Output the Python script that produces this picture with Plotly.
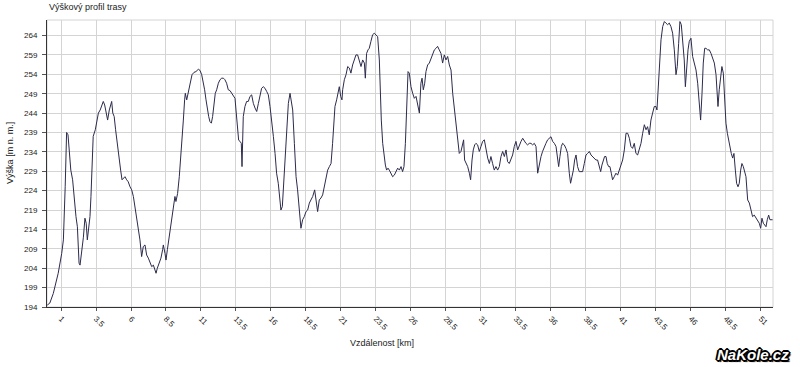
import plotly.graph_objects as go

km = [0.02, 0.2, 0.45, 0.7, 0.8, 1.05, 1.17, 1.3, 1.35, 1.4, 1.5, 1.6, 1.7, 1.83, 1.93, 2.07, 2.17, 2.29, 2.36,
      2.48, 2.6, 2.71, 2.8, 2.88, 2.98, 3.07, 3.14, 3.2, 3.3, 3.45, 3.55, 3.67, 3.8, 3.9, 4.02, 4.12, 4.2, 4.33,
      4.45, 4.55, 4.62, 4.7, 4.8, 4.9, 4.98, 5.07, 5.17, 5.26, 5.36, 5.45, 5.57, 5.69, 5.8, 5.93, 6.05, 6.17,
      6.28, 6.4, 6.52, 6.64, 6.76, 6.88, 7.0, 7.12, 7.24, 7.36, 7.48, 7.6, 7.71, 7.79, 7.88, 8.02, 8.14, 8.26,
      8.31, 8.43, 8.5, 8.6, 8.69, 8.79, 8.9, 9.02, 9.14, 9.21, 9.33, 9.45, 9.55, 9.64, 9.74, 9.83, 9.88, 9.98,
      10.07, 10.17, 10.26, 10.36, 10.5, 10.64, 10.81, 10.93, 11.05, 11.17, 11.26, 11.36, 11.45, 11.55, 11.64,
      11.74, 11.83, 11.93, 12.02, 12.12, 12.24, 12.36, 12.48, 12.6, 12.71, 12.83, 12.95, 13.07, 13.19, 13.31,
      13.43, 13.5, 13.6, 13.69, 13.79, 13.88, 13.93, 13.98, 14.02, 14.14, 14.26, 14.38, 14.5, 14.62, 14.74,
      14.86, 14.98, 15.1, 15.21, 15.33, 15.45, 15.57, 15.69, 15.81, 15.93, 16.05, 16.17, 16.29, 16.4, 16.52,
      16.64, 16.71, 16.81, 16.93, 17.02, 17.12, 17.24, 17.36,
      17.43, 17.55, 17.67, 17.79, 17.9, 18.02, 18.14, 18.26, 18.38, 18.5, 18.62, 18.74, 18.86, 18.98, 19.12,
      19.21, 19.33, 19.45, 19.57, 19.69, 19.81, 19.93, 20.05, 20.17, 20.29, 20.4, 20.48, 20.57, 20.69, 20.79,
      20.88, 20.98, 21.07, 21.12, 21.24, 21.36, 21.48, 21.6, 21.71, 21.83, 21.95, 22.07, 22.19, 22.31, 22.43,
      22.55, 22.67, 22.74, 22.83, 22.93, 23.02, 23.14, 23.26, 23.38, 23.5, 23.62, 23.74, 23.81, 23.88, 23.98,
      24.07, 24.17, 24.26, 24.36, 24.45, 24.57, 24.69, 24.81, 24.93, 25.05, 25.17, 25.29, 25.4, 25.5, 25.6,
      25.69, 25.79, 25.88, 26.0, 26.12, 26.24, 26.36, 26.48, 26.6, 26.71, 26.79, 26.88, 26.98, 27.07, 27.19,
      27.31, 27.43, 27.55, 27.67, 27.79, 27.9, 28.02, 28.14, 28.26, 28.38, 28.5, 28.62, 28.74, 28.86, 28.98,
      29.1, 29.21, 29.33, 29.45, 29.57, 29.69, 29.76, 29.83, 29.93, 30.05, 30.17, 30.26, 30.36, 30.45, 30.55,
      30.64, 30.76, 30.88, 31.0, 31.12, 31.24, 31.36, 31.48, 31.6, 31.71, 31.83, 31.95, 32.07, 32.19, 32.31,
      32.43, 32.55, 32.67, 32.79, 32.9, 33.02, 33.14, 33.26, 33.38, 33.5, 33.62, 33.74, 33.86, 33.98, 34.1,
      34.21, 34.33, 34.45, 34.57, 34.69, 34.81, 34.93,
      35.05, 35.17, 35.29, 35.4, 35.52, 35.64, 35.76, 35.88, 36.0, 36.12, 36.24, 36.36, 36.48, 36.55, 36.64,
      36.74, 36.83, 36.95, 37.07, 37.19, 37.31, 37.4, 37.5, 37.6, 37.69, 37.79, 37.9, 38.02, 38.14, 38.26,
      38.38, 38.5, 38.62, 38.74, 38.86, 38.98, 39.1, 39.21, 39.33, 39.45, 39.55, 39.64, 39.74, 39.83, 39.93,
      40.02, 40.12, 40.21, 40.31, 40.4, 40.52, 40.64, 40.76, 40.88, 41.0, 41.12, 41.24, 41.36, 41.48, 41.6,
      41.71, 41.83, 41.95, 42.07, 42.19, 42.31, 42.43, 42.55, 42.67, 42.79, 42.9, 43.02, 43.14, 43.26, 43.38,
      43.5, 43.57, 43.64, 43.74, 43.86, 43.98, 44.1, 44.21, 44.33, 44.45, 44.57, 44.69, 44.81, 44.93, 45.02,
      45.12, 45.21, 45.31, 45.4, 45.52, 45.6, 45.69, 45.79, 45.88, 46.0, 46.12, 46.24, 46.36, 46.48, 46.6,
      46.69, 46.79, 46.88, 46.98, 47.07, 47.19, 47.31, 47.43, 47.55, 47.67, 47.79, 47.86, 47.93, 48.02, 48.12,
      48.21, 48.31, 48.4, 48.5, 48.6, 48.69, 48.79, 48.88, 48.98, 49.07, 49.17, 49.26, 49.36, 49.45, 49.55,
      49.64, 49.74, 49.83, 49.93, 50.05, 50.17, 50.29, 50.4, 50.52, 50.64, 50.76, 50.88, 50.98, 51.07, 51.17,
      51.26, 51.36, 51.45, 51.55, 51.64, 51.74, 51.83]

elevation = [194.5, 195, 197.5, 201, 202.7, 207.8, 211.3, 225, 233, 239, 238.4, 234.5, 229.3, 226.8, 222.5,
             217.3, 214.7, 205.3, 204.8, 207.8, 212, 216.9, 215.6, 211.3, 213.8, 217.3, 222.5, 231, 238, 239.7,
             241.4, 244, 244.8, 245.7, 247, 246.1, 244.8, 242.2, 244.8, 246.5, 247, 244, 243.1, 239.7, 237,
             234.5, 231, 229.3, 226.8, 227.2, 227.6, 226.8, 226.3, 225, 224.2, 222.5, 219.9, 216.5, 213.9, 211.3,
             207, 209.6, 210, 207.4, 206.6, 205.3, 204.4, 204.8, 203.6, 202.7, 204, 205.3, 206.6, 208.8, 210,
             207.8, 206.1, 208.8, 211.3, 213, 216.5, 219, 222.5, 221.2, 223.3, 227.6, 231.9, 236.2, 242.2, 247.4,
             249.1, 247.4, 249.1, 250, 252.1, 253.9, 254.5, 254.7, 255.3, 255, 253.9, 252.1, 250, 247.4, 244.8,
             243.1, 241.8, 241.4, 243.1, 245.7, 249.1, 250, 251.7, 252.6, 253, 253, 252.6, 251.7, 250, 249.8,
             249.1, 248.7, 247.8, 244.8, 239.7, 237, 236.7, 236.2, 230.2, 236.2, 243.1, 245.7, 247, 247, 248.3,
             248.7, 246.5, 245.3, 244.4, 246.5, 248.7, 250.4, 250.8, 250.4, 249.6, 248.7, 245.7, 242.2, 238,
             233.6, 228.5, 225.9, 221.6, 219, 219.9, 227.6, 234.5, 240.5, 246.5, 249.1,
             247.8, 244.8, 236.2, 227.6, 224.2, 219, 214.3, 216.5, 217.3, 218.6, 219, 220.8, 221.6, 222.5, 224.2,
             221.6, 218.6, 221.6, 222.1, 222.9, 225, 227.6, 229.3, 230.2, 231, 236.2, 242.2, 245.7, 247.4, 249.1,
             250.8, 248.3, 247.4, 250, 252.6, 253.9, 256, 255.6, 254.3, 256.4, 257.7, 259, 259, 257.3, 256,
             257.7, 256.9, 253, 259.4, 260.3, 260.7, 262.5, 264.2, 264.6, 264.2, 263.7, 257.7, 249.1, 242.2, 236.2,
             232.8, 230.6, 229.3, 229.8, 229.3, 228.5, 227.6, 228, 228.9, 229.8, 229.3, 230.2, 228.9, 230.2, 236.2,
             246.5, 254.7, 254.3, 250.8, 249.1, 247.8, 248.3, 246.1, 244, 251.7, 253, 250, 251.7, 254.7, 256.4,
             256.9, 258.2, 259.4, 260.3, 260.7, 261.2, 260.3, 259.4, 256.9, 259, 257.7, 258.6, 256.4, 255.1, 249.1,
             244.8, 241.4, 237.1, 233.6, 234.1, 236.2, 237.1, 231.9, 231, 230.2, 228.5, 226.8, 231.9, 234.5, 235.8,
             236.2, 235.8, 234.1, 235.4, 236.7, 237.1, 234.5, 232.4, 231, 232.8, 231, 229.3, 230.2, 229.3, 230.2,
             232.8, 234.1, 232.8, 234.5, 231.5, 231, 231.9, 233.2, 235.4, 236.7, 234.5, 235.8, 236.7, 237.5, 236.7,
             236.2, 235.8, 236.2, 236.2, 235.8, 236.2, 235.4,
             228.5, 231, 232.8, 234.1, 235.4, 236.2, 237.1, 237.5, 237.9, 236.7, 236.2, 235.4, 232.8, 230.2, 232.8,
             235.4, 236.2, 235.8, 234.9, 233.6, 228.5, 225.9, 227.6, 229.3, 231.9, 233.2, 230.2, 228.9, 228.9, 228.9,
             231, 233.2, 233.6, 234.1, 233.2, 232.8, 232.4, 231.9, 231.9, 230.2, 228.9, 230.6, 231.9, 232.8, 232.8,
             231, 230.2, 230.2, 228.5, 226.8, 227.6, 228.5, 228, 229.3, 230.2, 231.9, 234.5, 238.8, 238.8, 237.5,
             235.4, 234.9, 236.2, 233.6, 233.2, 234.5, 236.2, 238.8, 241, 239.7, 240.5, 238.4, 242.2, 244, 245.7,
             245.7, 244.8, 249.1, 256.9, 262.9, 266.3, 267.6, 267.2, 266.8, 267.2, 266.3, 264.6, 260.3, 253.9, 256,
             262, 267.6, 266.8, 263.7, 257.7, 250.8, 256.9, 260.3, 262.5, 263.3, 258.6, 256.9, 255.1, 251.7, 244.8,
             242.2, 249.1, 256.9, 260.7, 260.7, 260.3, 260.3, 259.4, 258.2, 256.9, 253.9, 249.1, 245.7, 250, 253.4,
             256, 254.3, 248.3, 241.4, 238.8, 237.1, 234.5, 233.6, 232.4, 233.6, 229.3, 225.9, 225, 225.9, 229.3,
             231, 230.2, 228.9, 227.6, 221.6, 220.8, 219, 217.3, 217.7, 216.9, 216.5, 215.6, 214.3, 216.9, 215.6,
             215.2, 214.7, 216.5, 217.7, 216.5, 216.5, 216.5]

x_ticks = [1, 3.5, 6, 8.5, 11, 13.5, 16, 18.5, 21, 23.5, 26, 28.5, 31, 33.5, 36, 38.5, 41, 43.5, 46, 48.5, 51]
x_tick_labels = ["1", "3.5", "6", "8.5", "11", "13.5", "16", "18.5", "21", "23.5", "26", "28.5", "31",
                 "33.5", "36", "38.5", "41", "43.5", "46", "48.5", "51"]
y_ticks = [194, 199, 204, 209, 214, 219, 224, 229, 234, 239, 244, 249, 254, 259, 264]

FONT = "Liberation Sans, Arial, sans-serif"

fig = go.Figure()
fig.add_trace(go.Scatter(x=km, y=elevation, mode="lines",
                         line=dict(color="#2b2b4d", width=1), hoverinfo="x+y"))

fig.update_layout(
    width=800, height=367,
    margin=dict(l=47, r=27, t=20, b=60),
    paper_bgcolor="white", plot_bgcolor="white",
    showlegend=False,
    font=dict(family=FONT, size=8, color="#222"),
    xaxis=dict(range=[0, 51.86], tickmode="array", tickvals=x_ticks, ticktext=x_tick_labels,
               tickangle=45, showgrid=True, gridcolor="#d4d4d4", gridwidth=1,
               showline=True, linecolor="#333", linewidth=1, ticks="outside", ticklen=3,
               tickcolor="#555", zeroline=False, automargin=False,
               tickfont=dict(size=8, family=FONT, color="#222")),
    yaxis=dict(range=[194, 268], tickmode="array", tickvals=y_ticks,
               showgrid=True, gridcolor="#d4d4d4", gridwidth=1,
               showline=True, linecolor="#333", linewidth=1, ticks="outside", ticklen=4,
               ticklabelstandoff=3, automargin=False,
               tickcolor="#555", zeroline=False, tickfont=dict(size=8, family=FONT, color="#222")),
    shapes=[dict(type="rect", xref="paper", yref="paper", x0=0, x1=1, y0=0, y1=1,
                 line=dict(color="#d4d4d4", width=1), layer="below")],
    annotations=[
        dict(text="Výškový profil trasy", xref="paper", yref="paper", x=0, y=1,
             xshift=0, yshift=13, xanchor="left", yanchor="middle", showarrow=False,
             font=dict(size=9, family=FONT, color="#222")),
        dict(text="Výška [m n. m.]", xref="paper", yref="paper", x=0, y=0.537,
             xshift=-37, xanchor="center", yanchor="middle", textangle=-90, showarrow=False,
             font=dict(size=9, family=FONT, color="#222")),
        dict(text="Vzdálenost [km]", xref="paper", yref="paper", x=0.462, y=0,
             yshift=-36, xanchor="center", yanchor="middle", showarrow=False,
             font=dict(size=9, family=FONT, color="#222")),
        dict(text="<b><i>NaKole.cz</i></b>", xref="paper", yref="paper", x=1, y=0,
             xshift=18, yshift=-47, xanchor="right", yanchor="middle", showarrow=False,
             font=dict(size=15, family="Liberation Sans, Arial, sans-serif", color="white",
                       shadow="1px 1px 0 #000, -1px -1px 0 #000, 1px -1px 0 #000, -1px 1px 0 #000, "
                              "2px 0 0 #000, -2px 0 0 #000, 0 2px 0 #000, 0 -2px 0 #000, 2px 2px 1px #000")),
    ],
)

fig.write_html("out.html", config={"displayModeBar": False},
               post_script="document.body.style.margin='0';document.body.style.overflow='hidden';")
